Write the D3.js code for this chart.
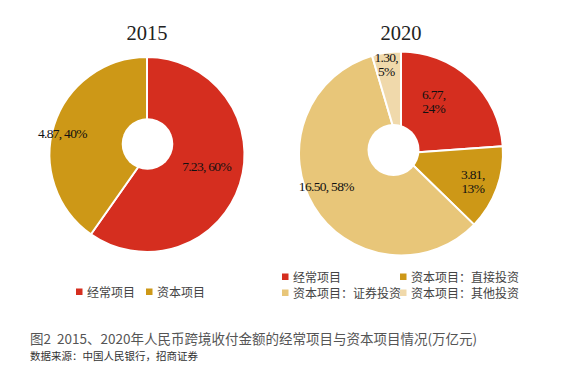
<!DOCTYPE html>
<html><head><meta charset="utf-8">
<script src="https://cdn.jsdelivr.net/npm/d3@7"></script>
<style>body{margin:0;background:#fff}svg{display:block}text{white-space:pre}</style>
</head><body>
<svg id="c" width="563" height="374"></svg>
<script>
// ---- data ----
const years = ["2015", "2020"];
const cats2015 = ["经常项目", "资本项目"];
const vals2015 = [7.23, 4.87];
const pcts2015 = ["60%", "40%"];
const cats2020 = ["经常项目", "资本项目：直接投资", "资本项目：证券投资", "资本项目：其他投资"];
const vals2020 = [6.77, 3.81, 16.50, 1.30];
const pcts2020 = ["24%", "13%", "58%", "5%"];
const caption = "图2  2015、2020年人民币跨境收付金额的经常项目与资本项目情况(万亿元)";
const source = "数据来源：中国人民银行，招商证券";

// ---- style ----
const colors2015 = ["#D52E1F", "#CD9817"];
const colors2020 = ["#D52E1F", "#CD9817", "#E8C679", "#F0D9AB"];
const serif = "'Liberation Serif','Times New Roman',serif";
const cjk = "'Noto Sans CJK SC','Noto Sans',sans-serif";

const svg = d3.select("#c");

function donut(cfg) {
  const g = svg.append("g").attr("transform", `translate(${cfg.cx},${cfg.cy})`);
  const pie = d3.pie().sort(null).value(d => d)(cfg.values);
  const arc = d3.arc().innerRadius(0).outerRadius(cfg.r);
  g.selectAll("path").data(pie).join("path")
    .attr("d", arc).attr("fill", (d, i) => cfg.colors[i])
    .attr("stroke", "#fff").attr("stroke-width", 2).attr("stroke-linejoin", "round");
  g.append("circle").attr("cx", cfg.hole[0]).attr("cy", cfg.hole[1]).attr("r", cfg.hole[2]).attr("fill", "#fff");
  // labels
  pie.forEach((d, i) => {
    const a = (d.startAngle + d.endAngle) / 2;
    const lr = cfg.labelR[i] * cfg.r;
    const x = Math.sin(a) * lr + cfg.nudge[i][0];
    const y = -Math.cos(a) * lr + cfg.nudge[i][1];
    const num = cfg.values[i].toFixed(2);
    const t = g.append("text").attr("text-anchor", "middle")
      .attr("font-family", serif).attr("font-size", 13.5).attr("letter-spacing", -0.7)
      .attr("fill", "#111");
    if (cfg.twoLine[i]) {
      t.append("tspan").attr("x", x).attr("y", y - 3).text(num + ",");
      t.append("tspan").attr("x", x).attr("y", y + 11).text(cfg.pcts[i]);
    } else {
      t.attr("x", x).attr("y", y + 4).text(num + ", " + cfg.pcts[i]);
    }
  });
  svg.append("text").attr("x", cfg.cx).attr("y", 40).attr("text-anchor", "middle")
    .attr("font-family", serif).attr("font-size", 20.5).attr("fill", "#222").text(cfg.title);
}

donut({cx: 147, cy: 154.5, r: 97.5, values: vals2015, pcts: pcts2015, colors: colors2015,
  hole: [0.5, -10.5, 25.8], labelR: [0.63, 0.9], nudge: [[1, -6], [-1, 6]],
  twoLine: [false, false], title: years[0]});

donut({cx: 401, cy: 153.5, r: 102, values: vals2020, pcts: pcts2020, colors: colors2020,
  hole: [-7.5, -3.5, 26], labelR: [0.6, 0.75, 0.81, 0.87], nudge: [[-9, -7], [0, 2], [-4, -9], [-2, -1]],
  twoLine: [true, true, false, true], title: years[1]});

// legends
function legendItem(x, y, color, label) {
  svg.append("rect").attr("x", x).attr("y", y - 3.5).attr("width", 6.5).attr("height", 6.5).attr("fill", color);
  svg.append("text").attr("x", x + 11).attr("y", y + 4.5)
    .attr("font-family", cjk).attr("font-size", 12)
    .attr("fill", "#444").text(label);
}
legendItem(76, 292, colors2015[0], cats2015[0]);
legendItem(146, 292, colors2015[1], cats2015[1]);
const lpos = [[282, 277], [400, 277], [282, 293], [400, 293]];
cats2020.forEach((c, i) => legendItem(lpos[i][0], lpos[i][1], colors2020[i], c));

svg.append("text").attr("x", 30).attr("y", 344).attr("font-family", cjk).attr("font-size", 13.5)
  .attr("fill", "#555").text(caption);
svg.append("text").attr("x", 30).attr("y", 360).attr("font-family", cjk).attr("font-size", 10.5)
  .attr("fill", "#333").text(source);
</script>
</body></html>
